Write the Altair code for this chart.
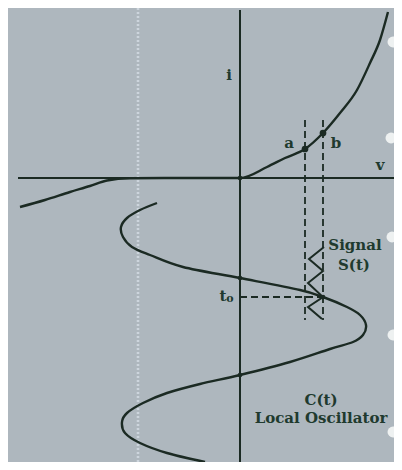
import altair as alt
import pandas as pd

# ---- data (diagram units: origin at axis crossing, x right, y up) ----
diode_v = [-22.0, -19.5, -17.0, -15.0, -13.3, -11.0, -6.0, 0.0, 2.7, 4.5, 6.5, 8.3, 10.0, 11.7, 13.0, 14.0, 14.8]
diode_i = [-2.9, -2.2, -1.4, -0.8, -0.25, -0.03, 0.0, 0.0, 1.1, 2.0, 2.9, 4.5, 6.5, 8.8, 11.5, 13.8, 16.6]

osc_v = [-8.3, -10.0, -11.3, -11.9, -11.7, -10.8, -9.0, -5.7, 0.0, 6.0, 8.3, 10.7, 12.0, 12.6, 12.3, 11.3,
         9.0, 5.0, 0.0, -4.0, -7.3, -9.7, -11.3, -11.8, -11.5, -10.0, -7.3, -3.5]
osc_t = [-2.5, -3.2, -4.0, -4.9, -5.9, -6.9, -7.7, -8.9, -10.0, -11.2, -11.9, -12.9, -13.7, -14.7, -15.7, -16.4,
         -17.1, -18.4, -19.7, -20.6, -21.5, -22.5, -23.5, -24.4, -25.5, -26.5, -27.5, -28.4]

sig_v = [8.4, 6.9, 8.3, 6.8, 8.3, 6.8, 8.2]
sig_t = [-6.9, -8.1, -9.3, -10.5, -11.9, -12.9, -14.1]

# axes segments
axis_x1 = [-22.2, 0.0]
axis_x2 = [15.5, 0.0]
axis_y1 = [0.0, 16.8]
axis_y2 = [0.0, -28.4]

# dashed guides (a, b verticals and t0 horizontal)
dash_x1 = [6.5, 8.3, 0.0]
dash_x2 = [6.5, 8.3, 8.3]
dash_y1 = [5.8, 5.8, -11.9]
dash_y2 = [-14.2, -14.2, -11.9]

# marked points
big_x = [6.5, 8.3]
big_y = [2.9, 4.5]
small_x = [0.0, 0.0, 0.0, 8.3]
small_y = [0.0, -10.0, -19.7, -11.9]

# labels
lab_text = ["i", "v", "a", "b", "Signal", "S(t)", "t", "C(t)", "Local Oscillator"]
lab_x = [-1.1, 14.0, 4.9, 9.6, 11.5, 11.4, -1.7, 8.1, 8.1]
lab_y = [10.3, 1.3, 3.5, 3.5, -6.7, -8.7, -11.8, -22.2, -24.0]
sub_text = ["o"]
sub_x = [-1.0]
sub_y = [-12.1]

# scan artefacts: binding holes and perforation line
hole_x = [15.3, 15.1, 15.2, 15.3, 15.3]
hole_y = [13.6, 4.0, -5.9, -15.7, -25.4]
perf_x = [-10.2]

ink = "#1b2a23"
txt = "#203a2e"
bg = "#aeb7be"

xs = alt.Scale(domain=[-23.2, 15.4], nice=False, zero=False)
ys = alt.Scale(domain=[-28.4, 17.0], nice=False, zero=False)
X = lambda f: alt.X(f, type="quantitative", scale=xs, axis=None)
Y = lambda f: alt.Y(f, type="quantitative", scale=ys, axis=None)

perf = alt.Chart(pd.DataFrame({"x": perf_x, "y1": [17.0], "y2": [-28.4]})).mark_rule(
    color="#cdd5dd", strokeWidth=2.5, strokeDash=[2, 2]).encode(x=X("x"), y=Y("y1"), y2="y2")

axes = alt.Chart(pd.DataFrame({"x1": axis_x1, "x2": axis_x2, "y1": axis_y1, "y2": axis_y2})).mark_rule(
    color=ink, strokeWidth=2).encode(x=X("x1"), x2="x2", y=Y("y1"), y2="y2")

dashes = alt.Chart(pd.DataFrame({"x1": dash_x1, "x2": dash_x2, "y1": dash_y1, "y2": dash_y2})).mark_rule(
    color=ink, strokeWidth=1.8, strokeDash=[7, 4]).encode(x=X("x1"), x2="x2", y=Y("y1"), y2="y2")

diode = alt.Chart(pd.DataFrame({"v": diode_v, "i": diode_i})).mark_line(
    color=ink, strokeWidth=2.4, interpolate="monotone").encode(x=X("v"), y=Y("i"))

osc = alt.Chart(pd.DataFrame({"v": osc_v, "t": osc_t, "k": list(range(len(osc_v)))})).mark_line(
    color=ink, strokeWidth=2.4, interpolate="cardinal").encode(x=X("v"), y=Y("t"), order="k:Q")

sig = alt.Chart(pd.DataFrame({"v": sig_v, "t": sig_t, "k": list(range(len(sig_v)))})).mark_line(
    color=ink, strokeWidth=2, interpolate="linear").encode(x=X("v"), y=Y("t"), order="k:Q")

bigpts = alt.Chart(pd.DataFrame({"x": big_x, "y": big_y})).mark_circle(
    color=ink, size=45, opacity=1).encode(x=X("x"), y=Y("y"))
smallpts = alt.Chart(pd.DataFrame({"x": small_x, "y": small_y})).mark_circle(
    color=ink, size=22, opacity=1).encode(x=X("x"), y=Y("y"))

labels = alt.Chart(pd.DataFrame({"s": lab_text, "x": lab_x, "y": lab_y})).mark_text(
    font="DejaVu Serif", fontSize=15, fontWeight="bold", color=txt, align="center", baseline="middle"
).encode(x=X("x"), y=Y("y"), text="s:N")
sub = alt.Chart(pd.DataFrame({"s": sub_text, "x": sub_x, "y": sub_y})).mark_text(
    font="DejaVu Serif", fontSize=11, fontWeight="bold", color=txt, align="center", baseline="middle"
).encode(x=X("x"), y=Y("y"), text="s:N")

holes = alt.Chart(pd.DataFrame({"x": hole_x, "y": hole_y})).mark_circle(
    color="#eef1f1", size=120, opacity=1).encode(x=X("x"), y=Y("y"))

chart = alt.layer(perf, axes, dashes, diode, osc, sig, bigpts, smallpts, labels, sub, holes).properties(
    width=386, height=454, autosize=alt.AutoSizeParams(type="none"), padding=0, background=bg
).configure_view(strokeWidth=0)

chart.save("out.html", embed_options={"renderer": "svg", "actions": False})
